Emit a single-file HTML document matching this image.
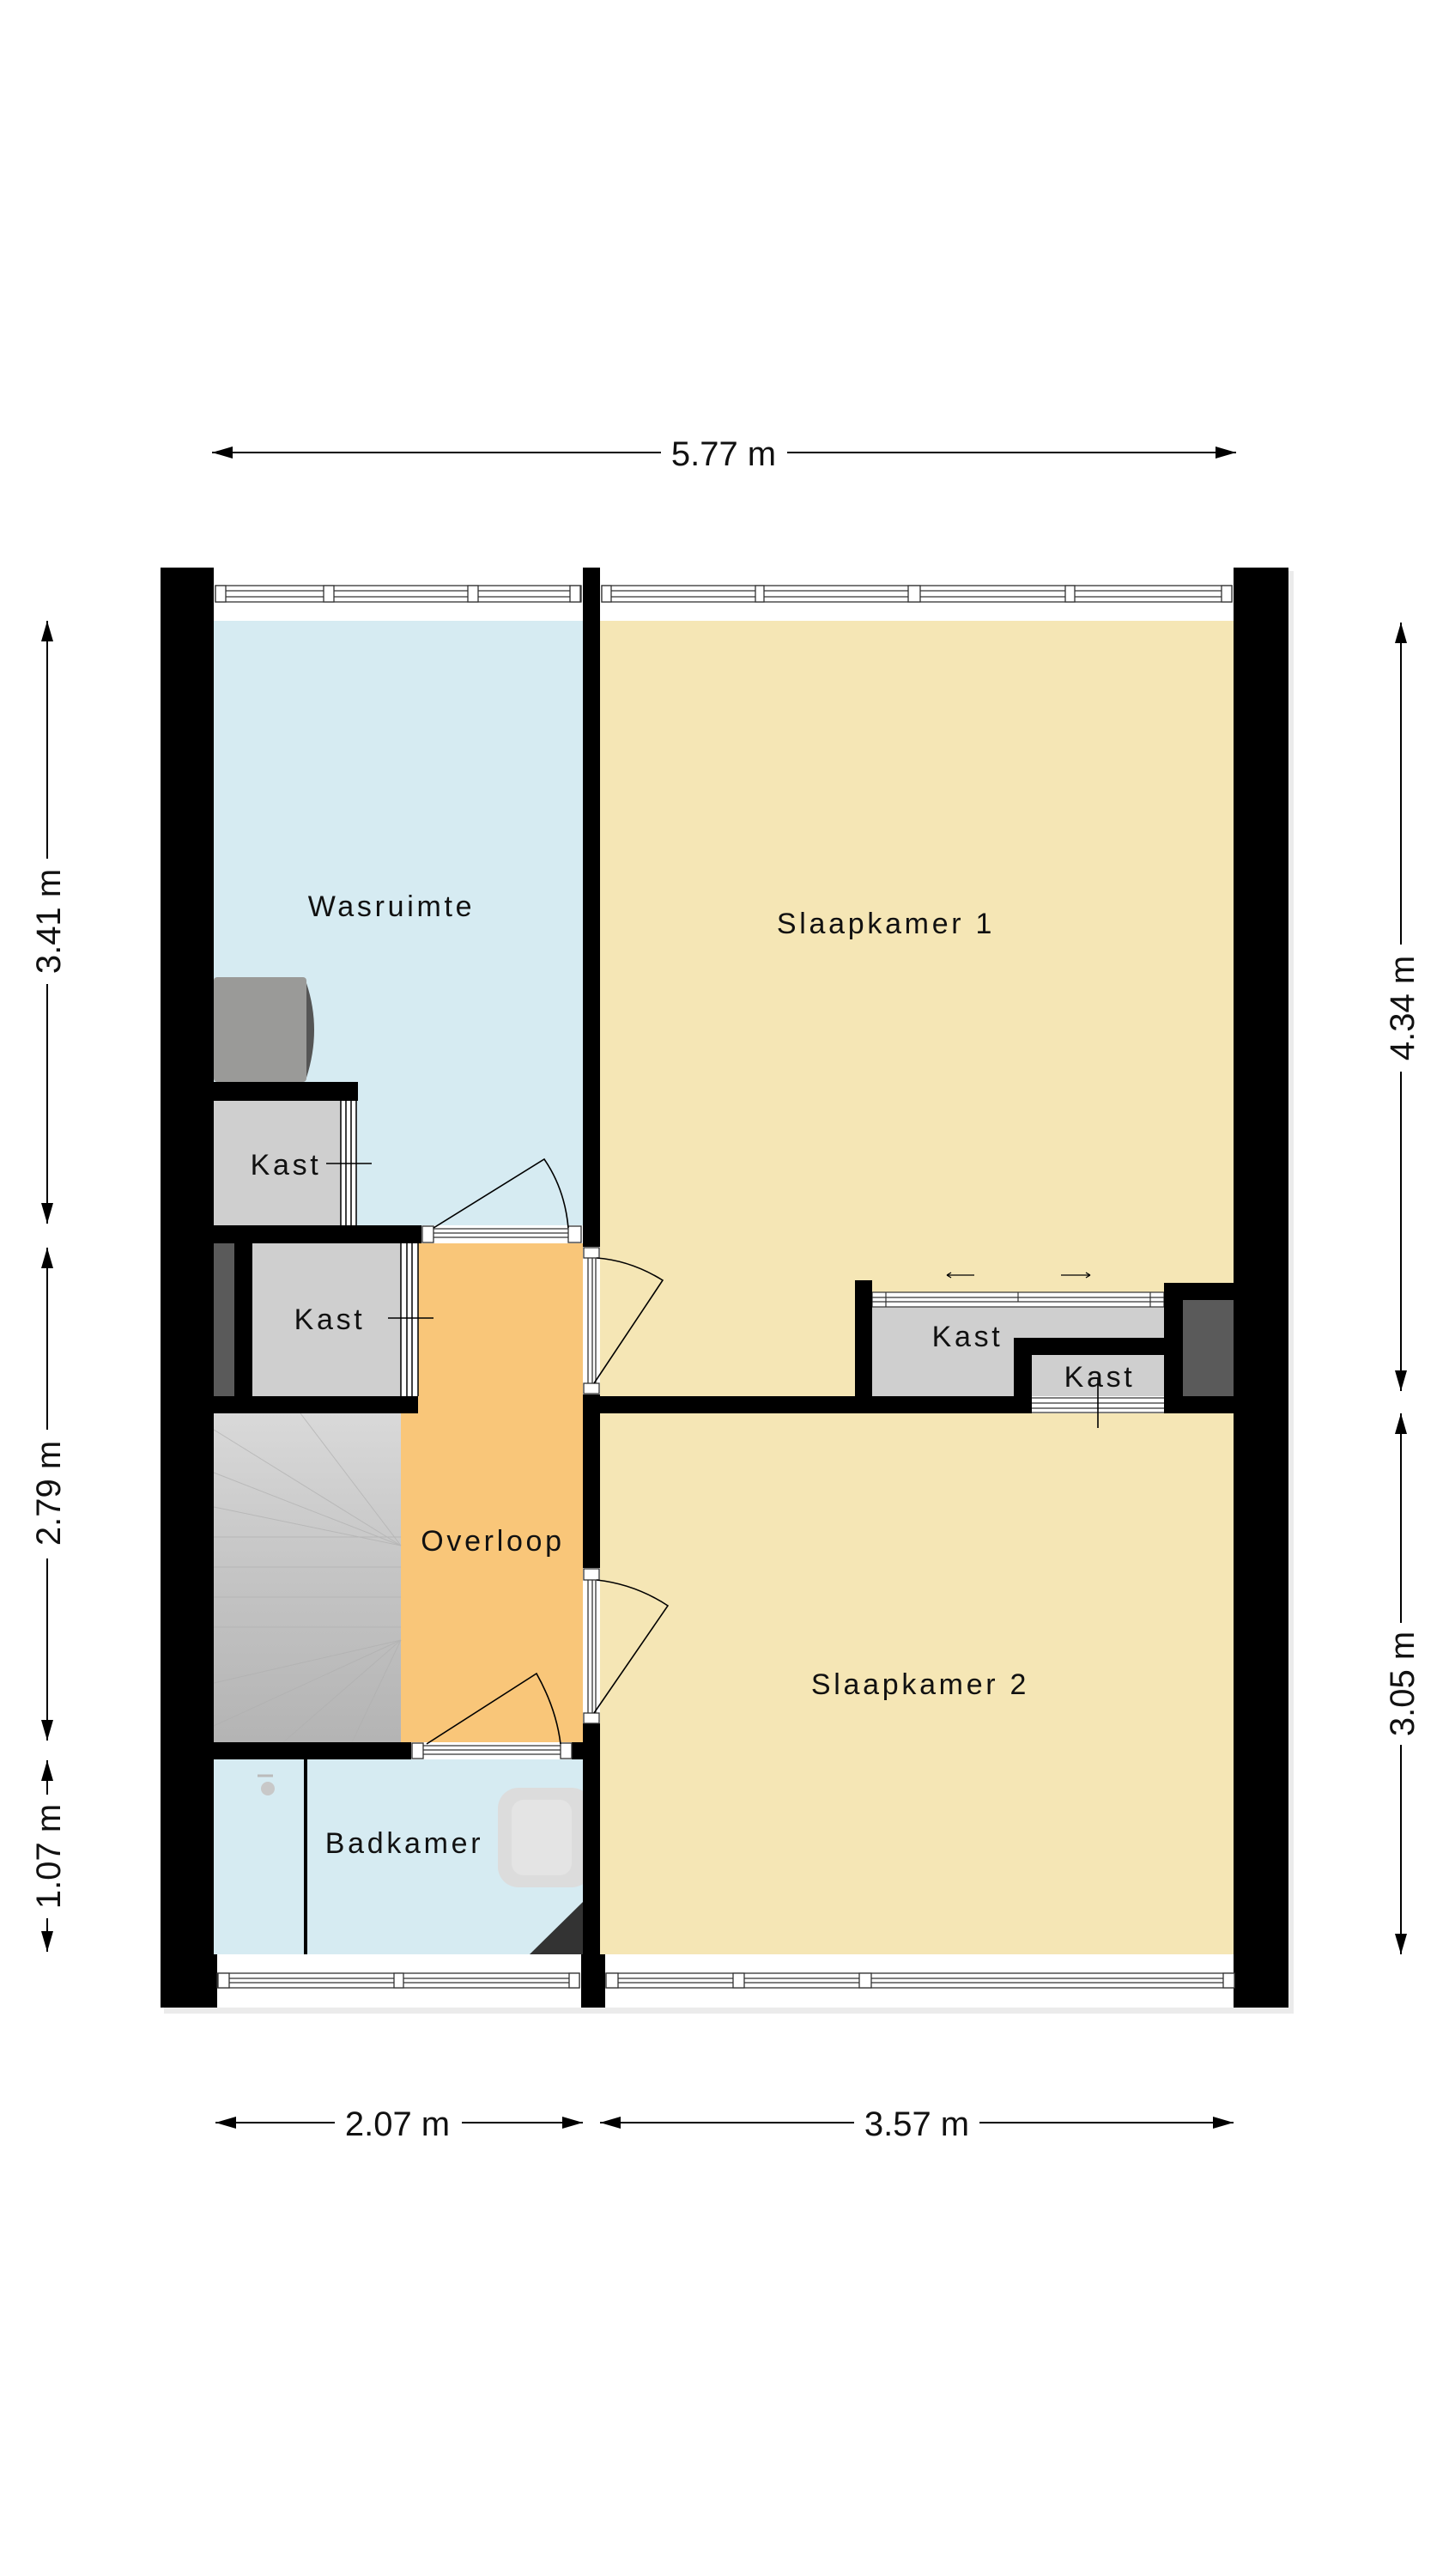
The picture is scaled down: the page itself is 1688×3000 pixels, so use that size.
<!DOCTYPE html>
<html><head><meta charset="utf-8"><style>
html,body{margin:0;padding:0;background:#fff;}
svg{display:block;}
text{font-family:"Liberation Sans",Arial,sans-serif;fill:#111;}
.r{font-size:34px;letter-spacing:3.7px;}
.d{font-size:40px;}
</style></head><body>
<svg width="1688" height="3000" viewBox="0 0 1688 3000" xmlns="http://www.w3.org/2000/svg">
<defs>
<marker id="ah" viewBox="0 0 24 14" refX="24" refY="7" markerWidth="24" markerHeight="14" markerUnits="userSpaceOnUse" orient="auto"><path d="M0,0 L24,7 L0,14z" fill="#000"/></marker>
<linearGradient id="st" x1="0" y1="0" x2="0" y2="1"><stop offset="0" stop-color="#d9d9d9"/><stop offset="0.5" stop-color="#c4c4c4"/><stop offset="1" stop-color="#b4b4b4"/></linearGradient>
</defs>
<rect x="191" y="665" width="1316" height="1680" fill="#ddd" opacity="0.6"/>
<rect x="187" y="661" width="1314" height="1677" fill="#fff"/>
<rect x="249" y="723" width="430" height="704" fill="#d6ebf2"/>
<rect x="699" y="723" width="738" height="903" fill="#f5e6b5"/>
<rect x="699" y="1646" width="738" height="630" fill="#f5e6b5"/>
<rect x="487" y="1448" width="192" height="581" fill="#f9c679"/>
<rect x="467" y="1646" width="212" height="383" fill="#f9c679"/>
<rect x="249" y="2049" width="430" height="227" fill="#d6ebf2"/>
<rect x="249" y="1646" width="218" height="383" fill="url(#st)"/>
<g stroke="#b0b0b0" stroke-width="1" opacity="0.7">
<line x1="467" y1="1800" x2="350" y2="1646"/><line x1="467" y1="1800" x2="249" y2="1665"/><line x1="467" y1="1800" x2="249" y2="1715"/><line x1="467" y1="1800" x2="249" y2="1755"/>
<line x1="249" y1="1790" x2="467" y2="1790"/><line x1="249" y1="1825" x2="467" y2="1825"/><line x1="249" y1="1860" x2="467" y2="1860"/><line x1="249" y1="1895" x2="467" y2="1895"/>
<line x1="467" y1="1910" x2="249" y2="1960"/><line x1="467" y1="1910" x2="249" y2="2010"/><line x1="467" y1="1910" x2="330" y2="2029"/><line x1="467" y1="1910" x2="410" y2="2029"/>
</g>
<rect x="249" y="1138" width="108" height="122" rx="4" fill="#9a9a98"/>
<path d="M357,1145 Q375,1199 357,1255z" fill="#555"/>
<rect x="249" y="1282" width="148" height="145" fill="#cfcfcf"/>
<rect x="397" y="1282" width="18" height="145" fill="#fff"/>
<g stroke="#000" stroke-width="1.5"><line x1="397" y1="1282" x2="397" y2="1427"/><line x1="403" y1="1282" x2="403" y2="1427"/><line x1="409" y1="1282" x2="409" y2="1427"/><line x1="415" y1="1282" x2="415" y2="1427"/></g>
<rect x="249" y="1448" width="24" height="178" fill="#5a5a5a"/>
<rect x="294" y="1448" width="173" height="178" fill="#cfcfcf"/>
<rect x="467" y="1448" width="20" height="178" fill="#fff"/>
<g stroke="#000" stroke-width="1.5"><line x1="467" y1="1448" x2="467" y2="1626"/><line x1="474" y1="1448" x2="474" y2="1626"/><line x1="480" y1="1448" x2="480" y2="1626"/><line x1="487" y1="1448" x2="487" y2="1626"/></g>
<rect x="1016" y="1522" width="340" height="104" fill="#cfcfcf"/>
<rect x="1202" y="1578" width="154" height="48" fill="#cfcfcf"/>
<rect x="1378" y="1514" width="59" height="112" fill="#5a5a5a"/>
<rect x="1016" y="1505" width="340" height="17" fill="#fff" stroke="#333" stroke-width="1.2"/>
<g stroke="#333" stroke-width="1.2"><line x1="1016" y1="1511" x2="1356" y2="1511"/><line x1="1016" y1="1516" x2="1356" y2="1516"/><line x1="1032" y1="1505" x2="1032" y2="1522"/><line x1="1186" y1="1505" x2="1186" y2="1516"/><line x1="1340" y1="1505" x2="1340" y2="1522"/></g>
<rect x="1202" y="1626" width="154" height="20" fill="#fff"/>
<g stroke="#333" stroke-width="1.2"><line x1="1202" y1="1628" x2="1356" y2="1628"/><line x1="1202" y1="1634" x2="1356" y2="1634"/><line x1="1202" y1="1640" x2="1356" y2="1640"/><line x1="1202" y1="1645" x2="1356" y2="1645"/></g>
<rect x="580" y="2082" width="110" height="116" rx="24" fill="#dcdcdc"/>
<rect x="596" y="2096" width="70" height="88" rx="14" fill="#e4e4e4"/>
<path d="M617,2276 L679,2215 L679,2276z" fill="#333"/>
<circle cx="312" cy="2083" r="8" fill="#c8c8c8"/><line x1="300" y1="2068" x2="318" y2="2068" stroke="#bbb" stroke-width="3"/>
<rect x="354" y="2049" width="4" height="227" fill="#000"/>
<g fill="#000">
<rect x="187" y="661" width="62" height="1677"/>
<rect x="679" y="661" width="20" height="791"/>
<rect x="679" y="1624" width="20" height="202"/>
<rect x="679" y="2007" width="20" height="331"/>
<rect x="677" y="2276" width="28" height="62"/>
<rect x="187" y="2276" width="66" height="62"/>
<rect x="1437" y="661" width="64" height="1677"/>
<rect x="249" y="1260" width="168" height="22"/>
<rect x="249" y="1427" width="242" height="21"/>
<rect x="273" y="1448" width="21" height="178"/>
<rect x="249" y="1626" width="238" height="20"/>
<rect x="249" y="2029" width="230" height="20"/>
<rect x="666" y="2029" width="13" height="20"/>
<rect x="699" y="1626" width="503" height="20"/>
<rect x="996" y="1491" width="20" height="135"/>
<rect x="1181" y="1558" width="175" height="20"/>
<rect x="1181" y="1558" width="21" height="88"/>
<rect x="1356" y="1494" width="22" height="152"/>
<rect x="1356" y="1494" width="81" height="20"/>
<rect x="1356" y="1626" width="81" height="20"/>
</g>
<g fill="#fff" stroke="#333" stroke-width="1.3">
<rect x="251" y="682" width="426" height="19"/>
<rect x="701" y="682" width="734" height="19"/>
<rect x="253" y="2298" width="422" height="17"/>
<rect x="706" y="2298" width="732" height="17"/>
</g>
<g stroke="#333" stroke-width="1.2">
<line x1="251" y1="688" x2="677" y2="688"/><line x1="251" y1="695" x2="677" y2="695"/>
<line x1="701" y1="688" x2="1435" y2="688"/><line x1="701" y1="695" x2="1435" y2="695"/>
<line x1="253" y1="2304" x2="675" y2="2304"/><line x1="253" y1="2309" x2="675" y2="2309"/>
<line x1="706" y1="2304" x2="1438" y2="2304"/><line x1="706" y1="2309" x2="1438" y2="2309"/>
</g>
<g fill="#fff" stroke="#333" stroke-width="1.3">
<rect x="251" y="682" width="12" height="19"/><rect x="377" y="682" width="12" height="19"/><rect x="545" y="682" width="12" height="19"/><rect x="664" y="682" width="12" height="19"/>
<rect x="701" y="682" width="11" height="19"/><rect x="880" y="682" width="10" height="19"/><rect x="1058" y="682" width="14" height="19"/><rect x="1241" y="682" width="11" height="19"/><rect x="1423" y="682" width="12" height="19"/>
<rect x="254" y="2298" width="13" height="17"/><rect x="459" y="2298" width="11" height="17"/><rect x="663" y="2298" width="12" height="17"/>
<rect x="706" y="2298" width="14" height="17"/><rect x="854" y="2298" width="13" height="17"/><rect x="1001" y="2298" width="14" height="17"/><rect x="1425" y="2298" width="13" height="17"/>
</g>
<g fill="#fff" stroke="#333" stroke-width="1.3">
<rect x="491" y="1427" width="177" height="21" stroke="none"/>
<line x1="505" y1="1431" x2="662" y2="1431"/><line x1="505" y1="1436" x2="662" y2="1436"/><line x1="505" y1="1441" x2="662" y2="1441"/>
<rect x="492" y="1428" width="13" height="19"/><rect x="662" y="1428" width="15" height="19"/>
<rect x="479" y="2029" width="187" height="20" stroke="none"/>
<line x1="493" y1="2033" x2="653" y2="2033"/><line x1="493" y1="2038" x2="653" y2="2038"/><line x1="493" y1="2043" x2="653" y2="2043"/>
<rect x="480" y="2030" width="13" height="18"/><rect x="653" y="2030" width="13" height="18"/>
<rect x="679" y="1452" width="20" height="172" stroke="none"/>
<line x1="685" y1="1465" x2="685" y2="1611"/><line x1="690" y1="1465" x2="690" y2="1611"/><line x1="694" y1="1465" x2="694" y2="1611"/>
<rect x="680" y="1453" width="18" height="12"/><rect x="680" y="1611" width="18" height="12"/>
<rect x="679" y="1826" width="20" height="181" stroke="none"/>
<line x1="685" y1="1840" x2="685" y2="1995"/><line x1="690" y1="1840" x2="690" y2="1995"/><line x1="694" y1="1840" x2="694" y2="1995"/>
<rect x="680" y="1827" width="18" height="13"/><rect x="680" y="1995" width="18" height="12"/>
</g>
<g fill="none" stroke="#000" stroke-width="1.6">
<path d="M505,1430 L634,1350 Q658,1385 662,1430"/>
<path d="M497,2031 L625,1949 Q648,1990 653,2031"/>
<path d="M692,1611 L772,1491 Q735,1468 695,1465"/>
<path d="M692,1995 L778,1870 Q740,1845 695,1840"/>
<line x1="380" y1="1355" x2="433" y2="1355"/>
<line x1="452" y1="1535" x2="505" y2="1535"/>
<line x1="1279" y1="1604" x2="1279" y2="1663"/>
</g>
<g stroke="#000" stroke-width="1.3" fill="none">
<path d="M1103,1485 L1135,1485 M1103,1485 l5,-3 M1103,1485 l5,3"/>
<path d="M1236,1485 L1270,1485 M1270,1485 l-5,-3 M1270,1485 l-5,3"/>
</g>
<text class="r" x="456" y="1067" text-anchor="middle">Wasruimte</text>
<text class="r" x="1032" y="1087" text-anchor="middle">Slaapkamer 1</text>
<text class="r" x="1072" y="1973" text-anchor="middle">Slaapkamer 2</text>
<text class="r" x="574" y="1806" text-anchor="middle">Overloop</text>
<text class="r" x="471" y="2158" text-anchor="middle">Badkamer</text>
<text class="r" x="333" y="1368" text-anchor="middle">Kast</text>
<text class="r" x="384" y="1548" text-anchor="middle">Kast</text>
<text class="r" x="1127" y="1568" text-anchor="middle">Kast</text>
<text class="r" x="1281" y="1615" text-anchor="middle">Kast</text>
<g stroke="#000" stroke-width="2" fill="none" marker-end="url(#ah)">
<line x1="770" y1="527" x2="247" y2="527"/><line x1="917" y1="527" x2="1440" y2="527"/>
<line x1="55" y1="1000" x2="55" y2="723"/><line x1="55" y1="1146" x2="55" y2="1425"/>
<line x1="55" y1="1665" x2="55" y2="1453"/><line x1="55" y1="1815" x2="55" y2="2027"/>
<line x1="55" y1="2090" x2="55" y2="2050"/><line x1="55" y1="2234" x2="55" y2="2273"/>
<line x1="1632" y1="1100" x2="1632" y2="725"/><line x1="1632" y1="1248" x2="1632" y2="1620"/>
<line x1="1632" y1="1890" x2="1632" y2="1646"/><line x1="1632" y1="2032" x2="1632" y2="2276"/>
<line x1="390" y1="2472" x2="251" y2="2472"/><line x1="538" y1="2472" x2="679" y2="2472"/>
<line x1="995" y1="2472" x2="699" y2="2472"/><line x1="1141" y1="2472" x2="1437" y2="2472"/>
</g>
<text class="d" x="843" y="542" text-anchor="middle">5.77 m</text>
<text class="d" x="463" y="2487" text-anchor="middle">2.07 m</text>
<text class="d" x="1068" y="2487" text-anchor="middle">3.57 m</text>
<text class="d" transform="translate(70,1073) rotate(-90)" text-anchor="middle">3.41 m</text>
<text class="d" transform="translate(70,1739) rotate(-90)" text-anchor="middle">2.79 m</text>
<text class="d" transform="translate(70,2162) rotate(-90)" text-anchor="middle">1.07 m</text>
<text class="d" transform="translate(1647,1174) rotate(-90)" text-anchor="middle">4.34 m</text>
<text class="d" transform="translate(1647,1961) rotate(-90)" text-anchor="middle">3.05 m</text>
</svg>
</body></html>
